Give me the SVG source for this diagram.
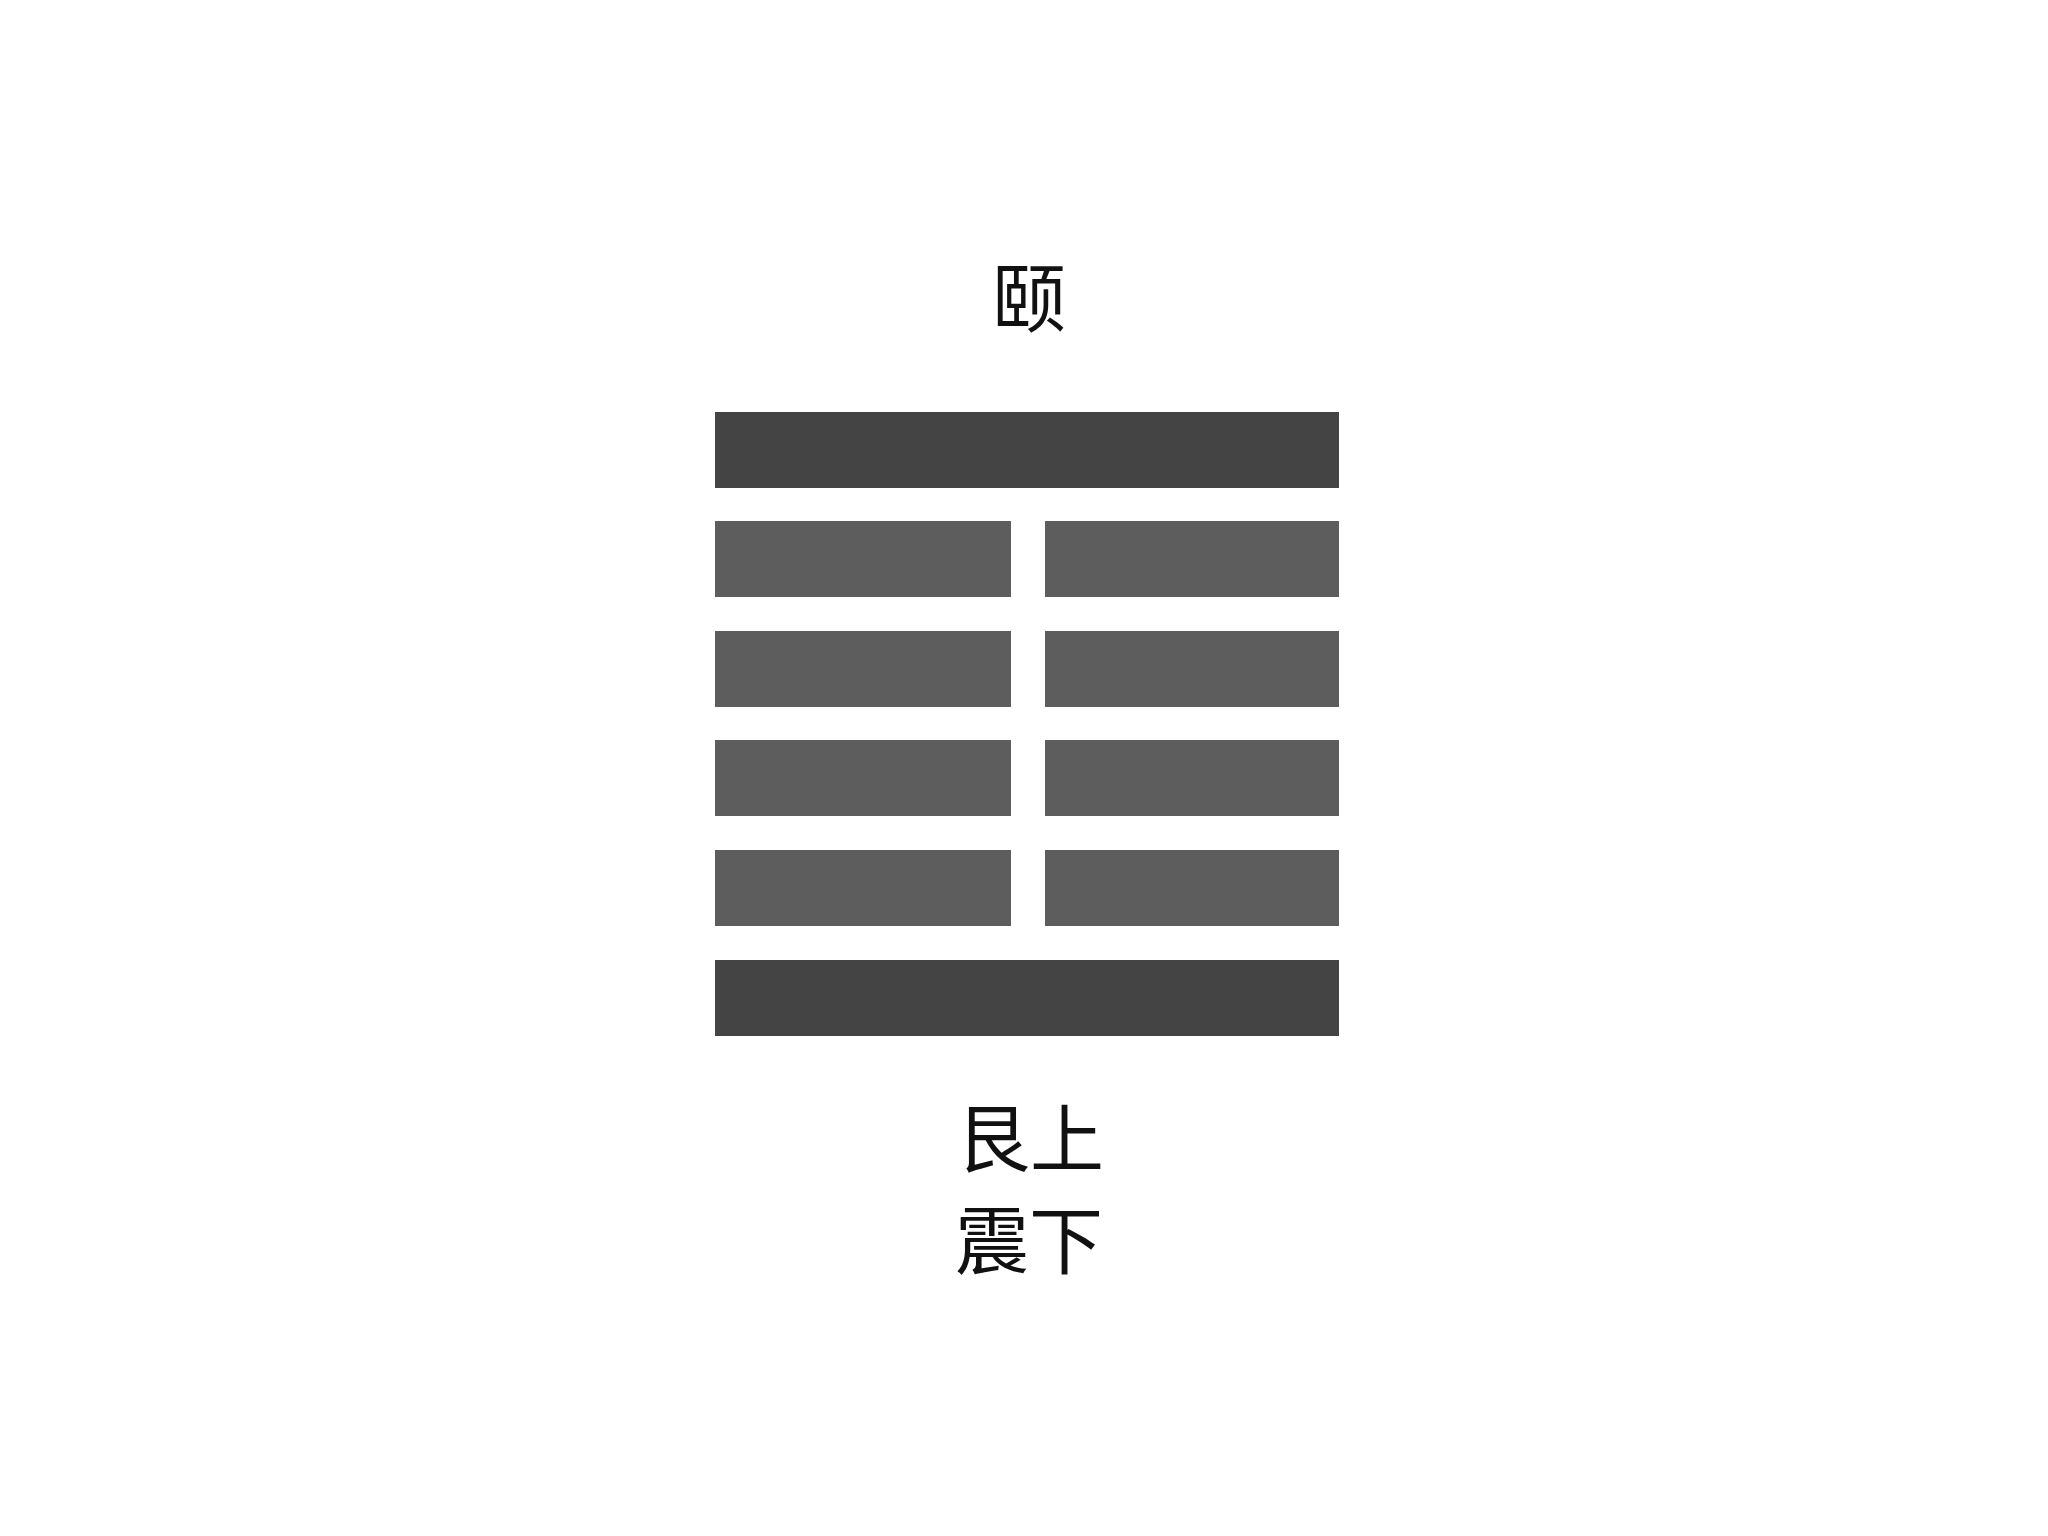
<svg xmlns="http://www.w3.org/2000/svg" width="2048" height="1536" viewBox="0 0 2048 1536">
<style>
.yang{fill:#444444}
.yin{fill:#5d5d5d}
.t{font-family:"Noto Sans CJK SC","Noto Sans CJK JP",sans-serif;font-size:74px;fill:#111111;text-anchor:middle}
</style>
<rect width="2048" height="1536" fill="#ffffff"/>
<g id="title"><text class="t" x="1029" y="326">颐</text></g>
<g id="line6"><rect class="yang" x="715" y="412" width="624" height="76"/></g>
<g id="line5"><rect class="yin" x="715" y="521" width="296" height="76"/><rect class="yin" x="1045" y="521" width="294" height="76"/></g>
<g id="line4"><rect class="yin" x="715" y="631" width="296" height="76"/><rect class="yin" x="1045" y="631" width="294" height="76"/></g>
<g id="line3"><rect class="yin" x="715" y="740" width="296" height="76"/><rect class="yin" x="1045" y="740" width="294" height="76"/></g>
<g id="line2"><rect class="yin" x="715" y="850" width="296" height="76"/><rect class="yin" x="1045" y="850" width="294" height="76"/></g>
<g id="line1"><rect class="yang" x="715" y="960" width="624" height="76"/></g>
<g id="labels">
<text class="t" x="1030" y="1166">艮上</text>
<text class="t" x="1029" y="1268">震下</text>
</g>
<g id="connectors"></g>
</svg>
